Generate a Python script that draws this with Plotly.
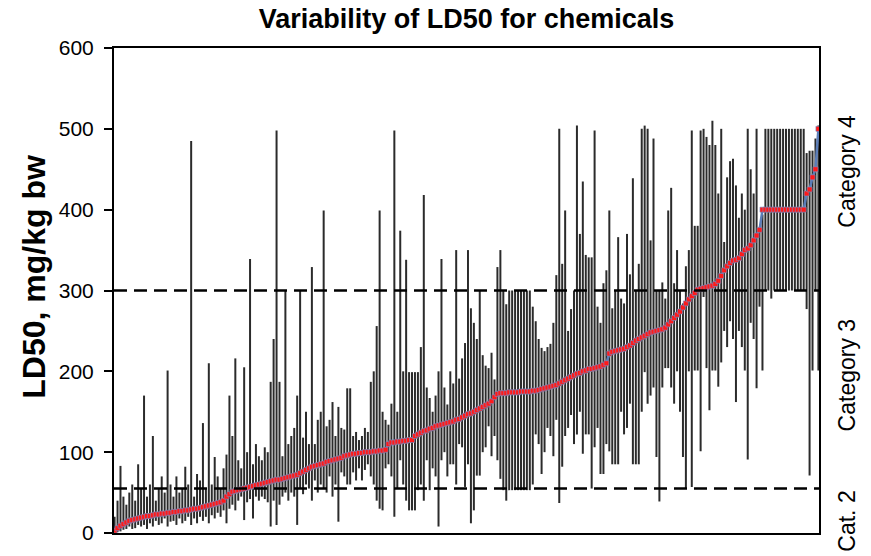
import plotly.graph_objects as go

title_text = "Variability of LD50 for chemicals"
y_title = "LD50, mg/kg bw"
y_ticks = [0, 100, 200, 300, 400, 500, 600]
cat_bounds = [55, 300]
cat_labels = ["Category 4", "Category 3", "Cat. 2"]
cat_label_y = [447, 195, 14]

median = [
    3, 6, 9, 11, 13, 15, 16, 17, 18, 19,
    20, 21, 21, 22, 23, 23, 24, 24, 25, 25,
    26, 26, 27, 27, 28, 28, 29, 30, 30, 31,
    32, 33, 34, 35, 36, 37, 38, 40,
    45, 48, 51, 52, 53, 54, 55, 56, 57, 58, 59, 60,
    61, 62, 63, 64, 65, 66, 66, 67, 68, 69,
    70, 71, 72, 74, 76, 78, 80, 82, 83, 84,
    85, 86, 88, 89, 90, 91, 92, 93, 95, 96,
    97, 98, 98, 99, 99, 100, 100, 100, 101, 101, 102, 102, 103,
    110, 112, 112, 113, 113, 114, 114, 115, 115,
    120, 122, 124, 126, 127, 129, 130, 132,
    133, 134, 135, 136, 137, 138, 140, 141, 143, 145,
    147, 148, 150, 152, 154, 156, 158, 160, 163, 168,
    172, 173, 173, 173, 174, 174, 174, 174, 175, 175, 175, 175, 176, 176,
    177, 178, 179, 180, 181, 182, 183, 185, 187, 189,
    191, 193, 195, 197, 198, 200, 201,
    203, 203, 204, 205, 206, 208, 210,
    222, 224, 225, 226, 227, 228, 230, 232, 235, 238, 240, 242,
    244, 246, 248, 249, 250, 251, 252, 254,
    258, 262, 266, 270, 274, 279, 284, 289, 293, 297,
    301, 302, 303, 304, 305, 306,
    308, 312, 318, 325, 330, 334, 337,
    338, 340, 345, 350, 352, 356, 362, 368, 375,
    400, 400, 400, 400, 400, 400, 400, 400, 400, 400, 400, 400, 400, 400, 400,
    420, 425, 440, 450, 500,
]

ld50_max = [
    20, 40, 83, 45, 35, 50, 60, 40, 85, 55,
    170, 45, 60, 120, 40, 55, 70, 50, 201, 60,
    45, 70, 50, 55, 82, 60, 485, 45, 73, 65,
    136, 55, 210, 60, 94, 70, 55, 80,
    97, 170, 120, 216, 90, 80, 205, 100, 339, 85, 110, 95,
    90, 106, 100, 187, 240, 498, 187, 95, 300, 110,
    120, 130, 170, 300, 118, 150, 110, 329, 110, 140,
    150, 399, 132, 140, 162, 120, 156, 130, 128, 179,
    179, 120, 125, 115, 120, 130, 125, 187, 200, 256, 399, 150, 140,
    134, 160, 498, 150, 374, 200, 338, 199, 199,
    199, 199, 230, 418, 180, 167, 150, 170,
    200, 339, 180, 159, 200, 185, 350, 191, 216, 235,
    350, 278, 260, 240, 300, 220, 207, 204, 223, 190,
    329, 350, 300, 283, 300, 300, 300, 300, 300, 300, 300, 300, 280, 262,
    240, 229, 225, 230, 234, 260, 319, 500, 333, 399,
    250, 277, 300, 504, 370, 435, 344,
    341, 341, 498, 280, 260, 309, 325,
    399, 278, 300, 366, 290, 284, 370, 320, 439, 300, 333, 500,
    504, 500, 362, 488, 300, 300, 310, 290,
    399, 427, 309, 350, 300, 284, 330, 350, 498, 380,
    380, 498, 500, 490, 480, 510,
    480, 420, 500, 360, 440, 460, 463,
    430, 390, 420, 400, 500, 450, 420, 500, 378,
    394, 500, 500, 500, 500, 500, 500, 500, 500, 500, 500, 500, 500, 500, 500,
    470, 473, 473, 488, 504,
]

ld50_min = [
    0, 1, 2, 4, 5, 8, 5, 6, 10, 8,
    10, 5, 12, 8, 15, 10, 12, 18, 8, 14,
    15, 10, 18, 12, 15, 20, 10, 18, 12, 20,
    15, 20, 12, 22, 18, 25, 20, 28,
    12, 30, 35, 28, 40, 45, 16, 38, 42, 18, 45, 40,
    45, 42, 38, 8, 40, 10, 35, 45, 50, 40,
    50, 45, 10, 55, 48, 60, 55, 40, 65, 50,
    60, 55, 50, 70, 45, 60, 14, 75, 70, 60,
    60, 75, 65, 80, 65, 78, 85, 70, 60, 40, 30, 28, 80,
    85, 70, 20, 55, 90, 60, 40, 28, 28,
    28, 53, 60, 40, 90, 53, 80, 70,
    8, 90, 100, 70, 85, 85, 60, 110, 106, 57,
    85, 12, 28, 71, 71, 100, 106, 132, 95, 120,
    90, 67, 53, 40, 53, 53, 53, 53, 53, 53, 53, 53, 60, 122,
    110, 73, 100, 130, 120, 95, 140, 37, 82, 120,
    130, 146, 110, 122, 150, 98, 122,
    122, 55, 106, 130, 73, 73, 110,
    101, 85, 85, 85, 150, 122, 130, 160, 85, 85, 85, 150,
    199, 160, 170, 180, 94, 39, 180, 204,
    204, 180, 160, 200, 150, 94, 55, 200, 57, 201,
    201, 101, 292, 204, 152, 201,
    201, 181, 211, 250, 230, 262, 240,
    162, 250, 230, 201, 91, 260, 240, 179, 280,
    201, 300, 300, 290, 300, 300, 300, 300, 300, 300, 300, 300, 300, 300, 300,
    277, 71, 201, 300, 201,
]

assert len(median) == len(ld50_max) == len(ld50_min)
n = len(median)
idx = list(range(n))

FONT = "Arial, Liberation Sans, sans-serif"

# range segments (min to max) for each chemical
seg_x, seg_y = [], []
for i in idx:
    seg_x += [i, i, None]
    seg_y += [ld50_min[i], ld50_max[i], None]

fig = go.Figure()
fig.add_trace(go.Scatter(
    x=seg_x, y=seg_y, mode="lines",
    line=dict(color="#2b2b2b", width=2.0),
    hoverinfo="skip", showlegend=False,
))
fig.add_trace(go.Scatter(
    x=idx, y=median, mode="lines+markers",
    line=dict(color="#5B7DB8", width=2.5),
    marker=dict(symbol="square", size=5, color="#FF1A1A",
                line=dict(color="#7090C8", width=0.6)),
    showlegend=False,
))

for b in cat_bounds:
    fig.add_shape(type="line", xref="paper", yref="y", x0=0, x1=1, y0=b, y1=b,
                  line=dict(color="black", width=2.5, dash="13px,7px"), layer="above")

for lab, yv in zip(cat_labels, cat_label_y):
    fig.add_annotation(text=lab, xref="paper", yref="y", x=1.0, y=yv,
                       xanchor="center", yanchor="middle", xshift=28,
                       textangle=-90, showarrow=False,
                       font=dict(family=FONT, size=23, color="black"))

# y-axis title placed as annotation
fig.add_annotation(text="<b>" + y_title + "</b>", xref="paper", yref="paper",
                   x=(34 - 114) / 705, y=(540 - 280) / 492,
                   xanchor="center", yanchor="middle", textangle=-90, showarrow=False,
                   font=dict(family=FONT, size=32, color="black"))

fig.update_layout(
    width=871, height=556,
    margin=dict(l=114, r=52, t=48, b=16),
    paper_bgcolor="white", plot_bgcolor="white",
    title=dict(text="<b>" + title_text + "</b>", x=(114 + 819) / 2 / 871, xanchor="center",
               y=1 - 19 / 556, yanchor="middle",
               font=dict(family=FONT, size=27, color="black")),
    font=dict(family=FONT, color="black"),
)
fig.update_xaxes(range=[-0.2, n - 0.8], showticklabels=False, ticks="", showgrid=False,
                 zeroline=False, showline=True, linecolor="black", linewidth=2, mirror=True)
fig.update_yaxes(range=[0, 600], tickvals=y_ticks, ticks="outside", ticklen=8, tickwidth=2,
                 tickcolor="black", showgrid=False, zeroline=False, showline=True,
                 linecolor="black", linewidth=2, mirror=True, ticklabelstandoff=6,
                 tickfont=dict(family=FONT, size=21, color="black"))

fig.write_html("out.html")
